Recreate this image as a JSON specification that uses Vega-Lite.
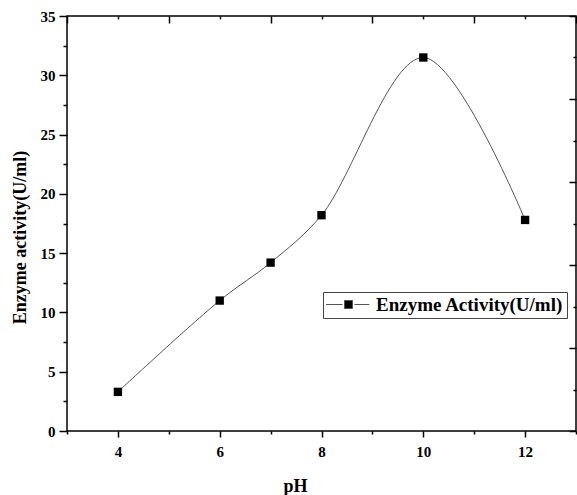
{
  "$schema": "https://vega.github.io/schema/vega-lite/v6.json",
  "autosize": "none",
  "padding": {"left": 67, "top": 16, "right": 1, "bottom": 64},
  "width": 509,
  "height": 415,
  "background": "white",
  "config": {
    "view": {"stroke": "black", "strokeWidth": 1.5},
    "axis": {
      "grid": false,
      "domain": false,
      "tickColor": "black",
      "tickWidth": 1.5,
      "labelFont": "Liberation Serif",
      "labelFontWeight": "bold",
      "labelFontSize": 15,
      "labelColor": "black",
      "titleFont": "Liberation Serif",
      "titleFontWeight": "bold",
      "titleFontSize": 18,
      "titleColor": "black"
    }
  },
  "data": {
    "values": [
      {"pH": 4, "activity": 3.3},
      {"pH": 6, "activity": 11.0},
      {"pH": 7, "activity": 14.2},
      {"pH": 8, "activity": 18.2},
      {"pH": 10, "activity": 31.5},
      {"pH": 12, "activity": 17.8}
    ]
  },
  "resolve": {"axis": {"x": "independent", "y": "independent"}},
  "layer": [
    {
      "mark": {"type": "line", "interpolate": "catmull-rom", "color": "#555555", "strokeWidth": 1},
      "encoding": {
        "x": {
          "field": "pH", "type": "quantitative",
          "scale": {"domain": [3, 13], "nice": false, "zero": false},
          "axis": {"orient": "bottom", "values": [4, 6, 8, 10, 12], "tickSize": 6, "labelPadding": 7,
                   "title": "pH", "titleX": 228, "titleY": 55, "titleBaseline": "middle", "titleAlign": "center"}
        },
        "y": {
          "field": "activity", "type": "quantitative",
          "scale": {"domain": [0, 35], "nice": false},
          "axis": {"orient": "left", "values": [0, 5, 10, 15, 20, 25, 30, 35], "tickSize": 8, "labelPadding": 4,
                   "title": "Enzyme activity(U/ml)", "titleX": -47, "titleY": 221, "titleAngle": -90,
                   "titleAlign": "center", "titleBaseline": "middle"}
        }
      }
    },
    {
      "mark": {"type": "point", "shape": "square", "filled": true, "size": 70, "opacity": 1},
      "encoding": {
        "x": {
          "field": "pH", "type": "quantitative",
          "axis": {"orient": "bottom", "values": [3, 5, 7, 9, 11, 13], "tickSize": 3, "labels": false, "title": null}
        },
        "y": {
          "field": "activity", "type": "quantitative",
          "axis": {"orient": "left", "values": [2.5, 7.5, 12.5, 17.5, 22.5, 27.5, 32.5], "tickSize": 4, "labels": false, "title": null}
        },
        "color": {
          "datum": "Enzyme Activity(U/ml)",
          "scale": {"range": ["black"]},
          "legend": {
            "orient": "none",
            "legendX": 256,
            "legendY": 276,
            "title": null,
            "strokeColor": "#444444",
            "padding": 3,
            "labelFont": "Liberation Serif",
            "labelFontWeight": "bold",
            "labelFontSize": 19,
            "labelColor": "black",
            "labelLimit": 400,
            "symbolType": "M-5.6,0H-1.5M1.5,0H5.2M-1,-1H1V1H-1Z",
            "symbolSize": 64,
            "symbolOffset": 13,
            "labelOffset": 18,
            "symbolStrokeColor": "#555555",
            "symbolStrokeWidth": 1,
            "symbolFillColor": "black",
            "encode": {
              "symbols": {"update": {"stroke": {"value": "#555555"}, "strokeWidth": {"value": 1}, "fill": {"value": "black"}, "shape": {"value": "M-5.6,0H-1.5M1.5,0H5.2M-1,-1H1V1H-1Z"}, "opacity": {"value": 1}}}
            }
          }
        }
      }
    },
    {
      "mark": {"type": "point", "opacity": 0},
      "encoding": {
        "x": {
          "field": "pH", "type": "quantitative",
          "axis": {"orient": "top", "values": [3, 5, 7, 9, 11, 13], "tickSize": -7, "labels": false, "title": null}
        },
        "y": {
          "field": "activity", "type": "quantitative",
          "axis": {"orient": "right", "values": [0, 7, 14, 21, 28, 35], "tickSize": -7, "labels": false, "title": null}
        }
      }
    },
    {
      "mark": {"type": "point", "opacity": 0},
      "encoding": {
        "x": {
          "field": "pH", "type": "quantitative",
          "axis": {"orient": "top", "values": [4, 6, 8, 10, 12], "tickSize": -3, "labels": false, "title": null}
        },
        "y": {
          "field": "activity", "type": "quantitative",
          "axis": {"orient": "right", "values": [3.5, 10.5, 17.5, 24.5, 31.5], "tickSize": -3, "labels": false, "title": null}
        }
      }
    }
  ]
}
